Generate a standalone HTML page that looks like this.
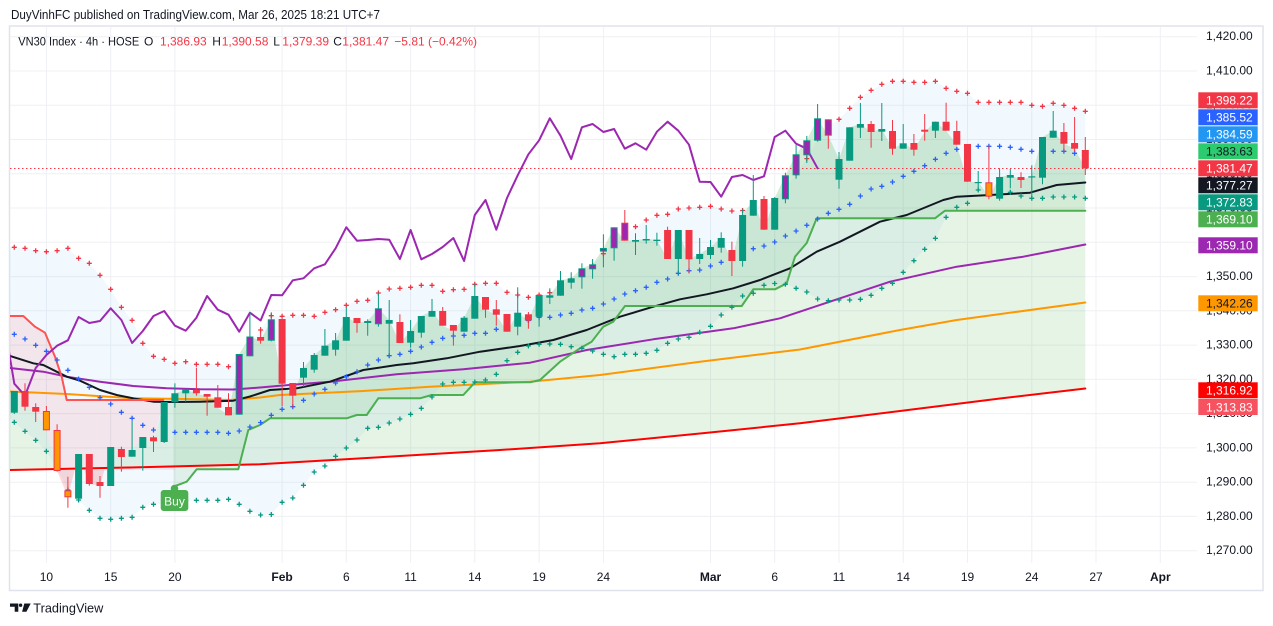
<!DOCTYPE html>
<html><head><meta charset="utf-8"><style>
html,body{margin:0;padding:0;background:#fff;}
body{width:1273px;height:626px;overflow:hidden;}
svg{display:block;font-family:"Liberation Sans",Arial,sans-serif;}
.wu{stroke:#089981;stroke-width:1}
.wd{stroke:#f23645;stroke-width:1}
.u{fill:#089981}
.d{fill:#f23645}
.pu{fill:#9c27b0;stroke:#089981;stroke-width:1}
.pd{fill:#9c27b0;stroke:#f23645;stroke-width:1}
.od{fill:#ff9800;stroke:#f23645;stroke-width:1}
.ln{fill:none;stroke-width:2;stroke-linejoin:round;stroke-linecap:round}
.ax{font-size:12px;fill:#131722;text-anchor:end}
.lb{font-size:12px;fill:#fff;text-anchor:end}
.tm{font-size:12px;fill:#131722;text-anchor:middle}
</style></head><body>
<svg width="1273" height="626" viewBox="0 0 1273 626" xmlns="http://www.w3.org/2000/svg">
<defs>
<clipPath id="plot"><rect x="10" y="27" width="1187" height="536"/></clipPath>
<clipPath id="abv"><polygon points="10,0 1090,0 1085.3,388.5 1000,398.5 900,411 800,423.3 700,433.5 600,443.3 500,450 400,456 260,464.3 130,467.5 10,470"/></clipPath>
<clipPath id="blw"><polygon points="10,470 130,467.5 260,464.3 400,456 500,450 600,443.3 700,433.5 800,423.3 900,411 1000,398.5 1085.3,388.5 1090,626 10,626"/></clipPath>
<marker id="mr" markerWidth="7" markerHeight="7" refX="3.5" refY="3.5" markerUnits="userSpaceOnUse" overflow="visible"><path d="M1 3.5h5M3.5 1v5" stroke="#f23645" stroke-width="1.3" fill="none"/></marker>
<marker id="mb" markerWidth="7" markerHeight="7" refX="3.5" refY="3.5" markerUnits="userSpaceOnUse" overflow="visible"><path d="M1 3.5h5M3.5 1v5" stroke="#2962ff" stroke-width="1.3" fill="none"/></marker>
<marker id="mt" markerWidth="7" markerHeight="7" refX="3.5" refY="3.5" markerUnits="userSpaceOnUse" overflow="visible"><path d="M1 3.5h5M3.5 1v5" stroke="#089981" stroke-width="1.3" fill="none"/></marker>
</defs>

<!-- header -->
<text x="11" y="19" font-size="12.5" fill="#131722" textLength="369" lengthAdjust="spacingAndGlyphs">DuyVinhFC published on TradingView.com, Mar 26, 2025 18:21 UTC+7</text>

<!-- frame -->
<rect x="9.5" y="26" width="1253.5" height="564.5" fill="none" stroke="#e0e3eb" stroke-width="1.5"/>

<!-- grid -->
<g stroke="#eef0f4" stroke-width="1">
<line x1="10" x2="1197" y1="36.7" y2="36.7"/><line x1="10" x2="1197" y1="71" y2="71"/><line x1="10" x2="1197" y1="105.2" y2="105.2"/><line x1="10" x2="1197" y1="139.5" y2="139.5"/><line x1="10" x2="1197" y1="173.8" y2="173.8"/><line x1="10" x2="1197" y1="208" y2="208"/><line x1="10" x2="1197" y1="242.3" y2="242.3"/><line x1="10" x2="1197" y1="276.6" y2="276.6"/><line x1="10" x2="1197" y1="310.8" y2="310.8"/><line x1="10" x2="1197" y1="345.1" y2="345.1"/><line x1="10" x2="1197" y1="379.4" y2="379.4"/><line x1="10" x2="1197" y1="413.6" y2="413.6"/><line x1="10" x2="1197" y1="447.9" y2="447.9"/><line x1="10" x2="1197" y1="482.2" y2="482.2"/><line x1="10" x2="1197" y1="516.4" y2="516.4"/><line x1="10" x2="1197" y1="550.7" y2="550.7"/>
<line y1="27" y2="563" x1="46.4" x2="46.4"/><line y1="27" y2="563" x1="110.7" x2="110.7"/><line y1="27" y2="563" x1="174.9" x2="174.9"/><line y1="27" y2="563" x1="282.1" x2="282.1"/><line y1="27" y2="563" x1="346.3" x2="346.3"/><line y1="27" y2="563" x1="410.6" x2="410.6"/><line y1="27" y2="563" x1="474.8" x2="474.8"/><line y1="27" y2="563" x1="539.1" x2="539.1"/><line y1="27" y2="563" x1="603.4" x2="603.4"/><line y1="27" y2="563" x1="710.5" x2="710.5"/><line y1="27" y2="563" x1="774.7" x2="774.7"/><line y1="27" y2="563" x1="839" x2="839"/><line y1="27" y2="563" x1="903.2" x2="903.2"/><line y1="27" y2="563" x1="967.5" x2="967.5"/><line y1="27" y2="563" x1="1031.8" x2="1031.8"/><line y1="27" y2="563" x1="1096" x2="1096"/><line y1="27" y2="563" x1="1160.3" x2="1160.3"/>
</g>

<g clip-path="url(#plot)">
<!-- BB fill -->
<polygon fill="rgba(33,150,243,0.06)" points="10,247.3 14.3,247.3 25,248.3 35.7,250.7 46.4,251.7 57.1,250.7 67.9,248.3 78.6,258.3 89.3,263.3 100,275.3 110.7,289.3 121.4,307.3 132.1,320.3 142.8,343.3 153.5,356.3 164.2,359.3 174.9,363.3 185.7,361.7 196.4,364.3 207.1,364.3 217.8,364.3 228.5,366.7 239.2,358 249.9,345 260.6,330 271.3,315.7 282.1,316.3 292.8,315.3 303.5,315.3 314.2,316.3 324.9,312.3 335.6,309.7 346.3,305.3 357,301.3 367.7,300.3 378.4,293 389.2,289 399.9,288.3 410.6,287.3 421.3,285.3 432,285.3 442.7,291.3 453.4,289.7 464.1,289.3 474.8,284.3 485.5,283.3 496.3,283.3 507,292.3 517.7,295 528.4,297.3 539.1,295 549.8,292.7 560.5,286 571.2,280 581.9,272 592.6,265.6 603.4,253.7 614.1,241.3 624.8,233.7 635.5,226.7 646.2,220 656.9,215.3 667.6,214.3 678.3,209 689,208 699.7,207.3 710.5,206.3 721.2,209 731.9,211 742.6,210.5 753.3,204 764,206.7 774.7,200 785.4,187.7 796.1,173.7 806.8,158.6 817.6,139 828.3,126 839,119.3 849.7,108.3 860.4,97.3 871.1,90.3 881.8,84.3 892.5,81.3 903.2,81.3 913.9,82.3 924.7,82.3 935.4,81.3 946.1,88.3 956.8,91.3 967.5,93.3 978.2,102.3 988.9,102.3 999.6,102.3 1010.3,102.3 1021,102.3 1031.8,105.3 1042.5,106.3 1053.2,103.3 1063.9,105.3 1074.6,108.3 1085.3,111.3 1085.3,198.3 1074.6,197 1063.9,197 1053.2,197 1042.5,198.3 1031.8,198.3 1021,196 1010.3,192.3 999.6,195 988.9,192 978.2,190 967.5,203.3 956.8,207.3 946.1,217.3 935.4,238.3 924.7,249.3 913.9,260.7 903.2,272.3 892.5,283.3 881.8,288.3 871.1,295.3 860.4,299.3 849.7,300 839,300 828.3,300.7 817.6,299 806.8,292 796.1,288.3 785.4,284.3 774.7,283.5 764,285.3 753.3,293.3 742.6,296 731.9,307.3 721.2,315 710.5,326.3 699.7,332.3 689,337.3 678.3,339 667.6,343.3 656.9,350.3 646.2,353.3 635.5,354.3 624.8,354.3 614.1,356.7 603.4,354.3 592.6,351 581.9,348.3 571.2,346.7 560.5,344.3 549.8,344 539.1,344.3 528.4,346 517.7,352.3 507,360.7 496.3,374.3 485.5,380 474.8,382 464.1,382.3 453.4,382.3 442.7,384 432,397 421.3,408.3 410.6,414.3 399.9,419 389.2,423 378.4,427.3 367.7,428.3 357,440 346.3,448 335.6,456.3 324.9,466 314.2,472 303.5,485.3 292.8,498 282.1,502.3 271.3,514.5 260.6,515 249.9,511.3 239.2,504.3 228.5,499.3 217.8,500.3 207.1,500.3 196.4,500.3 185.7,501 174.9,502 164.2,504 153.5,504.3 142.8,507.3 132.1,517.3 121.4,518.3 110.7,519.3 100,518.3 89.3,510.3 78.6,500 67.9,490 57.1,469 46.4,451.3 35.7,440.3 25,431.3 14.3,422.3 10,419"/>

<!-- price vs EMA200 fill -->
<g id="lf">
<polygon clip-path="url(#abv)" fill="rgba(76,175,80,0.14)" points="10,391 14.3,391 25,406.7 35.7,411.7 46.4,430.3 57.1,471 67.9,497.3 78.6,454 89.3,484 100,486 110.7,447 121.4,457 132.1,450 142.8,437 153.5,441.3 164.2,402 174.9,393.3 185.7,389.7 196.4,393.3 207.1,396.7 217.8,407.7 228.5,415.3 239.2,354 249.9,336.5 260.6,340.7 271.3,319.3 282.1,383.7 292.8,395.7 303.5,368 314.2,355 324.9,345.7 335.6,340.3 346.3,317 357,323 367.7,321 378.4,308.3 389.2,320 399.9,343 410.6,331 421.3,316 432,311 442.7,325.7 453.4,330.7 464.1,317.7 474.8,296 485.5,309.7 496.3,314.7 507,331.7 517.7,312.7 528.4,320.5 539.1,295 549.8,295.3 560.5,280.3 571.2,278.3 581.9,268.3 592.6,264.3 603.4,248.3 614.1,227.3 624.8,240.7 635.5,240 646.2,239 656.9,239.7 667.6,259 678.3,230 689,259.3 699.7,254 710.5,247 721.2,238 731.9,261 742.6,215 753.3,200 764,229.7 774.7,198 785.4,175.3 796.1,154.3 806.8,140.3 817.6,118.3 828.3,135.7 839,159 849.7,127.3 860.4,124 871.1,132 881.8,129 892.5,148.7 903.2,143.3 913.9,149.7 924.7,131.7 935.4,121.7 946.1,130.7 956.8,144.7 967.5,181.7 978.2,182 988.9,196.7 999.6,177 1010.3,175 1021,180 1031.8,176.3 1042.5,137 1053.2,130.7 1063.9,143.7 1074.6,148.7 1085.3,168.3 1085.3,388.5 1000,398.5 900,411 800,423.3 700,433.5 600,443.3 500,450 400,456 260,464.3 130,467.5 10,470"/>
<polygon clip-path="url(#blw)" fill="rgba(242,54,69,0.09)" points="10,391 14.3,391 25,406.7 35.7,411.7 46.4,430.3 57.1,471 67.9,497.3 78.6,454 89.3,484 100,486 110.7,447 121.4,457 132.1,450 142.8,437 153.5,441.3 164.2,402 174.9,393.3 174.9,470 10,470"/>
</g>

<!-- supertrend fills -->
<polygon fill="rgba(242,54,69,0.1)" points="10,316 23.3,316 35,326.7 45,332.7 55,356.7 61.7,376.7 66.7,400 163.3,400 163.3,402 153.5,441.3 142.8,437 132.1,450 121.4,457 110.7,447 100,486 89.3,484 78.6,454 67.9,497.3 57.1,471 46.4,430.3 35.7,411.7 25,406.7 14.3,391 10,391"/>
<polygon fill="rgba(76,175,80,0.11)" points="173.3,393.3 174.9,393.3 185.7,389.7 196.4,393.3 207.1,396.7 217.8,407.7 228.5,415.3 239.2,354 249.9,336.5 260.6,340.7 271.3,319.3 282.1,383.7 292.8,395.7 303.5,368 314.2,355 324.9,345.7 335.6,340.3 346.3,317 357,323 367.7,321 378.4,308.3 389.2,320 399.9,343 410.6,331 421.3,316 432,311 442.7,325.7 453.4,330.7 464.1,317.7 474.8,296 485.5,309.7 496.3,314.7 507,331.7 517.7,312.7 528.4,320.5 539.1,295 549.8,295.3 560.5,280.3 571.2,278.3 581.9,268.3 592.6,264.3 603.4,248.3 614.1,227.3 624.8,240.7 635.5,240 646.2,239 656.9,239.7 667.6,259 678.3,230 689,259.3 699.7,254 710.5,247 721.2,238 731.9,261 742.6,215 753.3,200 764,229.7 774.7,198 785.4,175.3 796.1,154.3 806.8,140.3 817.6,118.3 828.3,135.7 839,159 849.7,127.3 860.4,124 871.1,132 881.8,129 892.5,148.7 903.2,143.3 913.9,149.7 924.7,131.7 935.4,121.7 946.1,130.7 956.8,144.7 967.5,181.7 978.2,182 988.9,196.7 999.6,177 1010.3,175 1021,180 1031.8,176.3 1042.5,137 1053.2,130.7 1063.9,143.7 1074.6,148.7 1085.3,168.3 1085.3,210.7 945,210.7 935,218.3 816.7,218.3 806.7,243 795,256.7 786.7,283.3 775,289.3 753.3,289.3 741.7,306 625,306 613.3,321.7 603.3,326.7 591.7,341.7 580,348.3 560,361.7 540,380 530,382.3 475,382.3 463.3,395 431.7,395 420,398.3 378.3,398.3 366.7,415 356.7,415 346.7,418.3 270,418.3 260,425 248.3,430 238.3,469.3 196.7,469.3 186.7,481.7 173.3,486.7"/>

<!-- last price line -->
<line x1="10" x2="1198" y1="168.5" y2="168.5" stroke="#f23645" stroke-width="1" stroke-dasharray="1.5 2.5"/>

<!-- MAs -->
<polyline class="ln" stroke="#ff0000" points="10,470 130,467.5 260,464.3 400,456 500,450 600,443.3 700,433.5 800,423.3 900,411 1000,398.5 1085.3,388.5"/>
<polyline class="ln" stroke="#ff9800" points="10,391.5 66.7,394 133.3,398.3 200,399.3 230,400 260,397.5 280,395 363.3,391 430,386.7 530,381.7 600,375 700,361.7 800,349.5 900,330 956.7,320 1085.3,302.5"/>
<polyline class="ln" stroke="#9c27b0" points="10,368 43.3,371.7 66.7,376.7 100,381.7 133.3,386 166.7,388.3 200,389.3 233.3,389.5 260,387.5 280,385.7 330,381.7 396.7,374.3 463.3,369.3 530,362.7 586.7,350 653.3,339.3 733.3,328.3 780,318.3 810,308.3 840,298.3 890,281.7 956.7,266.7 1023.3,256.7 1085.3,244.5"/>
<polyline class="ln" stroke="#131722" points="10,356 33.3,363.3 43.3,365 66.7,376.7 80,380.7 100,390 116.7,395 133.3,398.3 153.3,401.7 173.3,402 200,401.7 233.3,400.7 250,396.5 270,390 296.7,388.3 330,381.7 363.3,370 396.7,365 413.3,363.3 446.7,358.3 480,351.7 520,346 553.3,340 586.7,330 620,316.7 653.3,306.7 680,299.3 706.7,294.3 733.3,288.3 760,280 790,268.3 816.7,251.7 840,241.7 880,221.7 906.7,215 943.3,200 956.7,196.7 990,195 1030,192.7 1056.7,185 1085.3,182.5"/>

<!-- supertrend lines -->
<polyline class="ln" stroke="#ff5252" points="10,316 23.3,316 35,326.7 45,332.7 55,356.7 61.7,376.7 66.7,400 163.3,400"/>
<polyline class="ln" stroke="#4caf50" points="173.3,486.7 186.7,481.7 196.7,469.3 238.3,469.3 248.3,430 260,425 270,418.3 346.7,418.3 356.7,415 366.7,415 378.3,398.3 420,398.3 431.7,395 463.3,395 475,382.3 530,382.3 540,380 560,361.7 580,348.3 591.7,341.7 603.3,326.7 613.3,321.7 625,306 741.7,306 753.3,289.3 775,289.3 786.7,283.3 795,256.7 806.7,243 816.7,218.3 935,218.3 945,210.7 1085.3,210.7"/>

<!-- lagging span -->
<polyline class="ln" stroke="#9c27b0" points="3.6,319.3 14.3,383.7 25,395.7 35.7,368 46.4,355 57.1,345.7 67.9,340.3 78.6,317 89.3,323 100,321 110.7,308.3 121.4,320 132.1,343 142.8,331 153.5,316 164.2,311 174.9,325.7 185.7,330.7 196.4,317.7 207.1,296 217.8,309.7 228.5,314.7 239.2,331.7 249.9,312.7 260.6,320.5 271.3,295 282.1,295.3 292.8,280.3 303.5,278.3 314.2,268.3 324.9,264.3 335.6,248.3 346.3,227.3 357,240.7 367.7,240 378.4,239 389.2,239.7 399.9,259 410.6,230 421.3,259.3 432,254 442.7,247 453.4,238 464.1,261 474.8,215 485.5,200 496.3,229.7 507,198 517.7,175.3 528.4,154.3 539.1,140.3 549.8,118.3 560.5,135.7 571.2,159 581.9,127.3 592.6,124 603.4,132 614.1,129 624.8,148.7 635.5,143.3 646.2,149.7 656.9,131.7 667.6,121.7 678.3,130.7 689,144.7 699.7,181.7 710.5,182 721.2,196.7 731.9,177 742.6,175 753.3,180 764,176.3 774.7,137 785.4,130.7 796.1,143.7 806.8,148.7 817.6,168.3"/>

<!-- band markers -->
<polyline fill="none" stroke="none" marker-start="url(#mr)" marker-mid="url(#mr)" marker-end="url(#mr)" points="14.3,247.3 25,248.3 35.7,250.7 46.4,251.7 57.1,250.7 67.9,248.3 78.6,258.3 89.3,263.3 100,275.3 110.7,289.3 121.4,307.3 132.1,320.3 142.8,343.3 153.5,356.3 164.2,359.3 174.9,363.3 185.7,361.7 196.4,364.3 207.1,364.3 217.8,364.3 228.5,366.7 239.2,358 249.9,345 260.6,330 271.3,315.7 282.1,316.3 292.8,315.3 303.5,315.3 314.2,316.3 324.9,312.3 335.6,309.7 346.3,305.3 357,301.3 367.7,300.3 378.4,293 389.2,289 399.9,288.3 410.6,287.3 421.3,285.3 432,285.3 442.7,291.3 453.4,289.7 464.1,289.3 474.8,284.3 485.5,283.3 496.3,283.3 507,292.3 517.7,295 528.4,297.3 539.1,295 549.8,292.7 560.5,286 571.2,280 581.9,272 592.6,265.6 603.4,253.7 614.1,241.3 624.8,233.7 635.5,226.7 646.2,220 656.9,215.3 667.6,214.3 678.3,209 689,208 699.7,207.3 710.5,206.3 721.2,209 731.9,211 742.6,210.5 753.3,204 764,206.7 774.7,200 785.4,187.7 796.1,173.7 806.8,158.6 817.6,139 828.3,126 839,119.3 849.7,108.3 860.4,97.3 871.1,90.3 881.8,84.3 892.5,81.3 903.2,81.3 913.9,82.3 924.7,82.3 935.4,81.3 946.1,88.3 956.8,91.3 967.5,93.3 978.2,102.3 988.9,102.3 999.6,102.3 1010.3,102.3 1021,102.3 1031.8,105.3 1042.5,106.3 1053.2,103.3 1063.9,105.3 1074.6,108.3 1085.3,111.3"/>
<polyline fill="none" stroke="none" marker-start="url(#mb)" marker-mid="url(#mb)" marker-end="url(#mb)" points="14.3,334.3 25,339 35.7,345.3 46.4,351.3 57.1,360 67.9,370.3 78.6,379 89.3,387.3 100,397.7 110.7,404 121.4,412.3 132.1,418.3 142.8,425.3 153.5,430 164.2,432.3 174.9,432.3 185.7,432.3 196.4,432.3 207.1,432.3 217.8,432.3 228.5,433.3 239.2,431 249.9,427 260.6,422.5 271.3,415.3 282.1,409.3 292.8,406.7 303.5,400.3 314.2,394 324.9,389.3 335.6,383 346.3,376.7 357,371.7 367.7,365 378.4,360 389.2,355.7 399.9,354.3 410.6,351.3 421.3,347 432,342.3 442.7,338.3 453.4,336 464.1,335.3 474.8,333.3 485.5,333.3 496.3,329.3 507,327 517.7,324 528.4,320.5 539.1,317.3 549.8,317.3 560.5,315 571.2,313.3 581.9,310 592.6,308.3 603.4,304 614.1,299 624.8,294 635.5,290.7 646.2,287.3 656.9,282.3 667.6,279 678.3,273.3 689,270.7 699.7,270 710.5,266 721.2,262.3 731.9,257.3 742.6,252.3 753.3,248.7 764,246 774.7,242 785.4,236 796.1,231 806.8,225.3 817.6,219 828.3,213.3 839,209.3 849.7,204.3 860.4,196 871.1,189 881.8,186.3 892.5,182 903.2,176.3 913.9,171.3 924.7,165.7 935.4,159.3 946.1,153.3 956.8,149.3 967.5,147.5 978.2,146.3 988.9,146.3 999.6,146.3 1010.3,147.3 1021,149.3 1031.8,151.3 1042.5,151.3 1053.2,151.3 1063.9,151.3 1074.6,153.3 1085.3,155"/>
<polyline fill="none" stroke="none" marker-start="url(#mt)" marker-mid="url(#mt)" marker-end="url(#mt)" points="14.3,422.3 25,431.3 35.7,440.3 46.4,451.3 57.1,469 67.9,490 78.6,500 89.3,510.3 100,518.3 110.7,519.3 121.4,518.3 132.1,517.3 142.8,507.3 153.5,504.3 164.2,504 174.9,502 185.7,501 196.4,500.3 207.1,500.3 217.8,500.3 228.5,499.3 239.2,504.3 249.9,511.3 260.6,515 271.3,514.5 282.1,502.3 292.8,498 303.5,485.3 314.2,472 324.9,466 335.6,456.3 346.3,448 357,440 367.7,428.3 378.4,427.3 389.2,423 399.9,419 410.6,414.3 421.3,408.3 432,397 442.7,384 453.4,382.3 464.1,382.3 474.8,382 485.5,380 496.3,374.3 507,360.7 517.7,352.3 528.4,346 539.1,344.3 549.8,344 560.5,344.3 571.2,346.7 581.9,348.3 592.6,351 603.4,354.3 614.1,356.7 624.8,354.3 635.5,354.3 646.2,353.3 656.9,350.3 667.6,343.3 678.3,339 689,337.3 699.7,332.3 710.5,326.3 721.2,315 731.9,307.3 742.6,296 753.3,293.3 764,285.3 774.7,283.5 785.4,284.3 796.1,288.3 806.8,292 817.6,299 828.3,300.7 839,300 849.7,300 860.4,299.3 871.1,295.3 881.8,288.3 892.5,283.3 903.2,272.3 913.9,260.7 924.7,249.3 935.4,238.3 946.1,217.3 956.8,207.3 967.5,203.3 978.2,190 988.9,192 999.6,195 1010.3,192.3 1021,196 1031.8,198.3 1042.5,198.3 1053.2,197 1063.9,197 1074.6,197 1085.3,198.3"/>

<!-- candles -->
<g>
<line class="wu" x1="14.3" x2="14.3" y1="391" y2="414"/><rect class="u" x="10.8" y="391" width="7" height="21.7"/>
<line class="wd" x1="25" x2="25" y1="383.3" y2="410.7"/><rect class="d" x="21.5" y="391" width="7" height="15.7"/>
<line class="wd" x1="35.7" x2="35.7" y1="403.3" y2="422"/><rect class="d" x="32.2" y="407" width="7" height="4.7"/>
<line class="wd" x1="46.4" x2="46.4" y1="406" y2="430.3"/><rect class="od" x="43.4" y="411.5" width="6" height="18.3"/>
<line class="wd" x1="57.1" x2="57.1" y1="424.3" y2="471"/><rect class="od" x="54.1" y="430.5" width="6" height="40"/>
<line class="wd" x1="67.9" x2="67.9" y1="476.7" y2="507.7"/><rect class="od" x="64.9" y="490.8" width="6" height="6"/>
<line class="wu" x1="78.6" x2="78.6" y1="454" y2="501.7"/><rect class="u" x="75.1" y="454" width="7" height="44.7"/>
<line class="wd" x1="89.3" x2="89.3" y1="454" y2="485.7"/><rect class="d" x="85.8" y="454" width="7" height="30"/>
<line class="wd" x1="100" x2="100" y1="476" y2="497.7"/><rect class="d" x="96.5" y="482" width="7" height="4"/>
<line class="wu" x1="110.7" x2="110.7" y1="447" y2="486"/><rect class="u" x="107.2" y="447" width="7" height="39"/>
<line class="wd" x1="121.4" x2="121.4" y1="446.7" y2="471.7"/><rect class="d" x="117.9" y="449" width="7" height="8"/>
<line class="wu" x1="132.1" x2="132.1" y1="421" y2="456.7"/><rect class="u" x="128.6" y="450" width="7" height="6.7"/>
<line class="wu" x1="142.8" x2="142.8" y1="437" y2="470.7"/><rect class="u" x="139.3" y="437" width="7" height="11"/>
<line class="wd" x1="153.5" x2="153.5" y1="435.7" y2="452"/><rect class="d" x="150" y="437.3" width="7" height="4"/>
<line class="wu" x1="164.2" x2="164.2" y1="402" y2="443"/><rect class="u" x="160.7" y="402" width="7" height="40"/>
<line class="wu" x1="174.9" x2="174.9" y1="383.3" y2="407.7"/><rect class="u" x="171.4" y="393.3" width="7" height="9"/>
<line class="wu" x1="185.7" x2="185.7" y1="389.7" y2="401.7"/><rect class="u" x="182.2" y="389.7" width="7" height="3.6"/>
<line class="wd" x1="196.4" x2="196.4" y1="367.7" y2="395.7"/><rect class="d" x="192.9" y="390" width="7" height="3.3"/>
<line class="wd" x1="207.1" x2="207.1" y1="394" y2="415.7"/><rect class="d" x="203.6" y="394" width="7" height="2.7"/>
<line class="wd" x1="217.8" x2="217.8" y1="385" y2="407.7"/><rect class="d" x="214.3" y="397.3" width="7" height="10.4"/>
<line class="wd" x1="228.5" x2="228.5" y1="393.3" y2="415.3"/><rect class="d" x="225" y="407" width="7" height="8.3"/>
<line class="wu" x1="239.2" x2="239.2" y1="354" y2="414.7"/><rect class="pu" x="236.2" y="354.5" width="6" height="59.7"/>
<line class="wu" x1="249.9" x2="249.9" y1="312" y2="356.3"/><rect class="pu" x="246.9" y="337" width="6" height="18.8"/>
<line class="wd" x1="260.6" x2="260.6" y1="327" y2="343.7"/><rect class="d" x="257.1" y="337" width="7" height="3.7"/>
<line class="wu" x1="271.3" x2="271.3" y1="312.3" y2="341.3"/><rect class="pu" x="268.3" y="319.8" width="6" height="20.4"/>
<line class="wd" x1="282.1" x2="282.1" y1="319" y2="406"/><rect class="d" x="278.6" y="319" width="7" height="64.7"/>
<line class="wd" x1="292.8" x2="292.8" y1="383" y2="407"/><rect class="d" x="289.3" y="383" width="7" height="12.7"/>
<line class="wu" x1="303.5" x2="303.5" y1="362" y2="386.7"/><rect class="u" x="300" y="368" width="7" height="9.7"/>
<line class="wu" x1="314.2" x2="314.2" y1="353" y2="372.7"/><rect class="u" x="310.7" y="355" width="7" height="14.7"/>
<line class="wu" x1="324.9" x2="324.9" y1="329" y2="355.7"/><rect class="u" x="321.4" y="345.7" width="7" height="10"/>
<line class="wu" x1="335.6" x2="335.6" y1="333" y2="355.7"/><rect class="u" x="332.1" y="340.3" width="7" height="9.4"/>
<line class="wu" x1="346.3" x2="346.3" y1="307.7" y2="340.7"/><rect class="u" x="342.8" y="317" width="7" height="23.7"/>
<line class="wd" x1="357" x2="357" y1="318" y2="332.7"/><rect class="d" x="353.5" y="318" width="7" height="5"/>
<line class="wu" x1="367.7" x2="367.7" y1="319.3" y2="335.7"/><rect class="u" x="364.2" y="321" width="7" height="2"/>
<line class="wu" x1="378.4" x2="378.4" y1="292.7" y2="326.7"/><rect class="pu" x="375.4" y="308.8" width="6" height="15"/>
<line class="wu" x1="389.2" x2="389.2" y1="300" y2="356.7"/><rect class="u" x="385.7" y="320" width="7" height="3.7"/>
<line class="wd" x1="399.9" x2="399.9" y1="314.3" y2="343"/><rect class="d" x="396.4" y="322" width="7" height="21"/>
<line class="wu" x1="410.6" x2="410.6" y1="320" y2="347.7"/><rect class="u" x="407.1" y="331" width="7" height="11.7"/>
<line class="wu" x1="421.3" x2="421.3" y1="316" y2="337.7"/><rect class="u" x="417.8" y="316" width="7" height="16.7"/>
<line class="wu" x1="432" x2="432" y1="299" y2="316.7"/><rect class="u" x="428.5" y="311" width="7" height="5.7"/>
<line class="wd" x1="442.7" x2="442.7" y1="307" y2="325.7"/><rect class="d" x="439.2" y="311" width="7" height="14.7"/>
<line class="wd" x1="453.4" x2="453.4" y1="325" y2="345.7"/><rect class="d" x="449.9" y="325" width="7" height="5.7"/>
<line class="wu" x1="464.1" x2="464.1" y1="316" y2="331.7"/><rect class="u" x="460.6" y="317.7" width="7" height="14"/>
<line class="wu" x1="474.8" x2="474.8" y1="283.3" y2="318.7"/><rect class="u" x="471.3" y="296" width="7" height="22.7"/>
<line class="wd" x1="485.5" x2="485.5" y1="297" y2="317.7"/><rect class="d" x="482" y="297" width="7" height="12.7"/>
<line class="wd" x1="496.3" x2="496.3" y1="300" y2="325.7"/><rect class="d" x="492.8" y="309.3" width="7" height="5.4"/>
<line class="wd" x1="507" x2="507" y1="314" y2="331.7"/><rect class="d" x="503.5" y="314" width="7" height="17.7"/>
<line class="wu" x1="517.7" x2="517.7" y1="287.3" y2="335.3"/><rect class="u" x="514.2" y="312.7" width="7" height="14"/>
<line class="wd" x1="528.4" x2="528.4" y1="312" y2="328.7"/><rect class="d" x="524.9" y="314.3" width="7" height="6.2"/>
<line class="wu" x1="539.1" x2="539.1" y1="295" y2="326.7"/><rect class="u" x="535.6" y="295" width="7" height="21.7"/>
<line class="wu" x1="549.8" x2="549.8" y1="288.3" y2="304"/><rect class="u" x="546.3" y="295.3" width="7" height="2.4"/>
<line class="wu" x1="560.5" x2="560.5" y1="271" y2="295.7"/><rect class="u" x="557" y="280.3" width="7" height="15.4"/>
<line class="wu" x1="571.2" x2="571.2" y1="272.3" y2="288.7"/><rect class="u" x="567.7" y="278.3" width="7" height="4.4"/>
<line class="wu" x1="581.9" x2="581.9" y1="263.3" y2="288.7"/><rect class="pu" x="578.9" y="268.8" width="6" height="8"/>
<line class="wu" x1="592.6" x2="592.6" y1="259" y2="278.7"/><rect class="pu" x="589.6" y="264.8" width="6" height="4"/>
<line class="wu" x1="603.4" x2="603.4" y1="234.3" y2="267.3"/><rect class="pu" x="600.4" y="248.5" width="6" height="2.6"/>
<line class="wu" x1="614.1" x2="614.1" y1="227.3" y2="260.7"/><rect class="pu" x="611.1" y="227.8" width="6" height="20"/>
<line class="wd" x1="624.8" x2="624.8" y1="210" y2="240.7"/><rect class="pd" x="621.8" y="223.2" width="6" height="17"/>
<line class="wu" x1="635.5" x2="635.5" y1="233.3" y2="255"/><rect class="u" x="632" y="240" width="7" height="1.7"/>
<line class="wu" x1="646.2" x2="646.2" y1="225" y2="243.7"/><rect class="u" x="642.7" y="239" width="7" height="1.5"/>
<line class="wu" x1="656.9" x2="656.9" y1="232.7" y2="245.7"/><rect class="u" x="653.4" y="239.7" width="7" height="1.3"/>
<line class="wd" x1="667.6" x2="667.6" y1="226.7" y2="259"/><rect class="d" x="664.1" y="230" width="7" height="29"/>
<line class="wu" x1="678.3" x2="678.3" y1="230" y2="274.3"/><rect class="u" x="674.8" y="230" width="7" height="29"/>
<line class="wd" x1="689" x2="689" y1="230" y2="273.3"/><rect class="d" x="685.5" y="230" width="7" height="29.3"/>
<line class="wu" x1="699.7" x2="699.7" y1="238" y2="264"/><rect class="u" x="696.2" y="254" width="7" height="5"/>
<line class="wu" x1="710.5" x2="710.5" y1="240" y2="259"/><rect class="u" x="707" y="247" width="7" height="8"/>
<line class="wu" x1="721.2" x2="721.2" y1="232.3" y2="252.7"/><rect class="u" x="717.7" y="238" width="7" height="9.7"/>
<line class="wd" x1="731.9" x2="731.9" y1="241.7" y2="276"/><rect class="d" x="728.4" y="250" width="7" height="11"/>
<line class="wu" x1="742.6" x2="742.6" y1="208.7" y2="266.7"/><rect class="u" x="739.1" y="215" width="7" height="46"/>
<line class="wu" x1="753.3" x2="753.3" y1="175" y2="215.7"/><rect class="u" x="749.8" y="200" width="7" height="15.7"/>
<line class="wd" x1="764" x2="764" y1="196" y2="229.7"/><rect class="d" x="760.5" y="199" width="7" height="30.7"/>
<line class="wu" x1="774.7" x2="774.7" y1="197.3" y2="229.7"/><rect class="u" x="771.2" y="198" width="7" height="31.7"/>
<line class="wu" x1="785.4" x2="785.4" y1="172.7" y2="203.3"/><rect class="pu" x="782.4" y="175.8" width="6" height="23"/>
<line class="wu" x1="796.1" x2="796.1" y1="145" y2="178.7"/><rect class="pu" x="793.1" y="154.8" width="6" height="20"/>
<line class="wu" x1="806.8" x2="806.8" y1="136" y2="163"/><rect class="pu" x="803.8" y="140.8" width="6" height="14"/>
<line class="wu" x1="817.6" x2="817.6" y1="104" y2="140.7"/><rect class="pu" x="814.6" y="118.8" width="6" height="21.4"/>
<line class="wd" x1="828.3" x2="828.3" y1="119.3" y2="148.7"/><rect class="pd" x="825.3" y="119.8" width="6" height="15.4"/>
<line class="wu" x1="839" x2="839" y1="152" y2="188.7"/><rect class="u" x="835.5" y="159" width="7" height="20.7"/>
<line class="wu" x1="849.7" x2="849.7" y1="127.3" y2="160.7"/><rect class="u" x="846.2" y="127.3" width="7" height="33.4"/>
<line class="wu" x1="860.4" x2="860.4" y1="103" y2="138"/><rect class="u" x="856.9" y="124" width="7" height="3.7"/>
<line class="wd" x1="871.1" x2="871.1" y1="121" y2="147.7"/><rect class="d" x="867.6" y="124" width="7" height="8"/>
<line class="wu" x1="881.8" x2="881.8" y1="103" y2="141"/><rect class="u" x="878.3" y="129" width="7" height="2.7"/>
<line class="wd" x1="892.5" x2="892.5" y1="120" y2="154.7"/><rect class="d" x="889" y="131" width="7" height="17.7"/>
<line class="wu" x1="903.2" x2="903.2" y1="124" y2="148.7"/><rect class="u" x="899.7" y="143.3" width="7" height="5.4"/>
<line class="wd" x1="913.9" x2="913.9" y1="134" y2="155.7"/><rect class="d" x="910.4" y="143" width="7" height="6.7"/>
<line class="wd" x1="924.7" x2="924.7" y1="114" y2="140.7"/><rect class="d" x="921.2" y="129.7" width="7" height="2"/>
<line class="wu" x1="935.4" x2="935.4" y1="121.7" y2="138"/><rect class="u" x="931.9" y="121.7" width="7" height="9"/>
<line class="wd" x1="946.1" x2="946.1" y1="102.7" y2="130.7"/><rect class="d" x="942.6" y="121.7" width="7" height="9"/>
<line class="wd" x1="956.8" x2="956.8" y1="120.7" y2="144.7"/><rect class="d" x="953.3" y="131" width="7" height="13.7"/>
<line class="wd" x1="967.5" x2="967.5" y1="144" y2="181.7"/><rect class="d" x="964" y="144" width="7" height="37.7"/>
<line class="wu" x1="978.2" x2="978.2" y1="171" y2="190.7"/><rect class="u" x="974.7" y="182" width="7" height="1.2"/>
<line class="wd" x1="988.9" x2="988.9" y1="145.3" y2="199.3"/><rect class="od" x="985.9" y="182.8" width="6" height="13.4"/>
<line class="wu" x1="999.6" x2="999.6" y1="168.3" y2="200.7"/><rect class="u" x="996.1" y="177" width="7" height="21.7"/>
<line class="wu" x1="1010.3" x2="1010.3" y1="169" y2="188.3"/><rect class="u" x="1006.8" y="175" width="7" height="2.7"/>
<line class="wd" x1="1021" x2="1021" y1="172.3" y2="188"/><rect class="d" x="1017.5" y="177" width="7" height="3"/>
<line class="wu" x1="1031.8" x2="1031.8" y1="165.3" y2="198"/><rect class="u" x="1028.3" y="176.3" width="7" height="1.2"/>
<line class="wu" x1="1042.5" x2="1042.5" y1="137" y2="184.3"/><rect class="u" x="1039" y="137" width="7" height="40.7"/>
<line class="wu" x1="1053.2" x2="1053.2" y1="111" y2="137.7"/><rect class="u" x="1049.7" y="130.7" width="7" height="7"/>
<line class="wd" x1="1063.9" x2="1063.9" y1="123" y2="151.7"/><rect class="d" x="1060.4" y="132" width="7" height="11.7"/>
<line class="wd" x1="1074.6" x2="1074.6" y1="117" y2="152"/><rect class="d" x="1071.1" y="143" width="7" height="5.7"/>
<line class="wd" x1="1085.3" x2="1085.3" y1="137" y2="175"/><rect class="d" x="1081.8" y="150" width="7" height="18.3"/>
</g>

<!-- Buy label -->
<circle cx="174.5" cy="488.5" r="3.8" fill="#4caf50"/>
<rect x="160.7" y="490" width="27.6" height="21" rx="3" fill="#4caf50"/>
<text x="174.5" y="505.5" font-size="12" fill="#fff" text-anchor="middle">Buy</text>
</g>

<!-- legend -->
<text y="45.5" font-size="12" fill="#131722"><tspan x="18.3" textLength="121" lengthAdjust="spacingAndGlyphs">VN30 Index · 4h · HOSE</tspan></text>
<text y="45.5" font-size="12" fill="#131722"><tspan x="144">O</tspan><tspan x="212.3">H</tspan><tspan x="273.3">L</tspan><tspan x="333.3">C</tspan></text>
<text y="45.5" font-size="12" fill="#f23645"><tspan x="160">1,386.93</tspan><tspan x="221.7">1,390.58</tspan><tspan x="282.3">1,379.39</tspan><tspan x="342.3">1,381.47</tspan><tspan x="394.3">−5.81 (−0.42%)</tspan></text>

<!-- price axis -->
<text class="ax" x="1252.7" y="40.2">1,420.00</text>
<text class="ax" x="1252.7" y="74.5">1,410.00</text>
<text class="ax" x="1252.7" y="108.7">1,400.00</text>
<text class="ax" x="1252.7" y="143">1,390.00</text>
<text class="ax" x="1252.7" y="177.3">1,380.00</text>
<text class="ax" x="1252.7" y="211.5">1,370.00</text>
<text class="ax" x="1252.7" y="245.8">1,360.00</text>
<text class="ax" x="1252.7" y="280.1">1,350.00</text>
<text class="ax" x="1252.7" y="314.3">1,340.00</text>
<text class="ax" x="1252.7" y="348.6">1,330.00</text>
<text class="ax" x="1252.7" y="382.9">1,320.00</text>
<text class="ax" x="1252.7" y="417.1">1,310.00</text>
<text class="ax" x="1252.7" y="451.4">1,300.00</text>
<text class="ax" x="1252.7" y="485.7">1,290.00</text>
<text class="ax" x="1252.7" y="519.9">1,280.00</text>
<text class="ax" x="1252.7" y="554.2">1,270.00</text>

<rect x="1198.3" y="92.3" width="59.4" height="16" fill="#f23645"/><text class="lb" x="1252.7" y="104.7">1,398.22</text>
<rect x="1198.3" y="109.3" width="59.4" height="16" fill="#2962ff"/><text class="lb" x="1252.7" y="121.7">1,385.52</text>
<rect x="1198.3" y="126.3" width="59.4" height="16" fill="#2196f3"/><text class="lb" x="1252.7" y="138.7">1,384.59</text>
<rect x="1198.3" y="143.3" width="59.4" height="16" fill="#2dcb70"/><text class="lb" x="1252.7" y="155.7" style="fill:#131722">1,383.63</text>
<rect x="1198.3" y="160.3" width="59.4" height="16" fill="#f23645"/><text class="lb" x="1252.7" y="172.7">1,381.47</text>
<rect x="1198.3" y="177.3" width="59.4" height="16" fill="#131722"/><text class="lb" x="1252.7" y="189.7">1,377.27</text>
<rect x="1198.3" y="194.3" width="59.4" height="16" fill="#089981"/><text class="lb" x="1252.7" y="206.7">1,372.83</text>
<rect x="1198.3" y="211.3" width="59.4" height="16" fill="#4caf50"/><text class="lb" x="1252.7" y="223.7">1,369.10</text>
<rect x="1198.3" y="237.3" width="59.4" height="16" fill="#9c27b0"/><text class="lb" x="1252.7" y="249.7">1,359.10</text>
<rect x="1198.3" y="295.3" width="59.4" height="16" fill="#ff9800"/><text class="lb" x="1252.7" y="307.7" style="fill:#131722">1,342.26</text>
<rect x="1198.3" y="382.3" width="59.4" height="16" fill="#ff0000"/><text class="lb" x="1252.7" y="394.7">1,316.92</text>
<rect x="1198.3" y="399" width="59.4" height="16" fill="#f7525f"/><text class="lb" x="1252.7" y="411.4">1,313.83</text>

<!-- time axis -->
<text class="tm" x="46.4" y="581">10</text>
<text class="tm" x="110.7" y="581">15</text>
<text class="tm" x="174.9" y="581">20</text>
<text class="tm" x="282.1" y="581" font-weight="bold">Feb</text>
<text class="tm" x="346.3" y="581">6</text>
<text class="tm" x="410.6" y="581">11</text>
<text class="tm" x="474.8" y="581">14</text>
<text class="tm" x="539.1" y="581">19</text>
<text class="tm" x="603.4" y="581">24</text>
<text class="tm" x="710.5" y="581" font-weight="bold">Mar</text>
<text class="tm" x="774.7" y="581">6</text>
<text class="tm" x="839" y="581">11</text>
<text class="tm" x="903.2" y="581">14</text>
<text class="tm" x="967.5" y="581">19</text>
<text class="tm" x="1031.8" y="581">24</text>
<text class="tm" x="1096" y="581">27</text>
<text class="tm" x="1160.3" y="581" font-weight="bold">Apr</text>

<!-- footer logo -->
<path d="M10 603.5h8.3v8.2h-3.6v-5h-4.7z" fill="#131722"/>
<circle cx="20.6" cy="605.2" r="1.7" fill="#131722"/>
<path d="M24.3 603.5h6.4l-4.3 8.2h-4.3z" fill="#131722"/>
<text x="33.3" y="612.5" font-size="13" fill="#131722" textLength="70" lengthAdjust="spacingAndGlyphs">TradingView</text>
</svg>
</body></html>
